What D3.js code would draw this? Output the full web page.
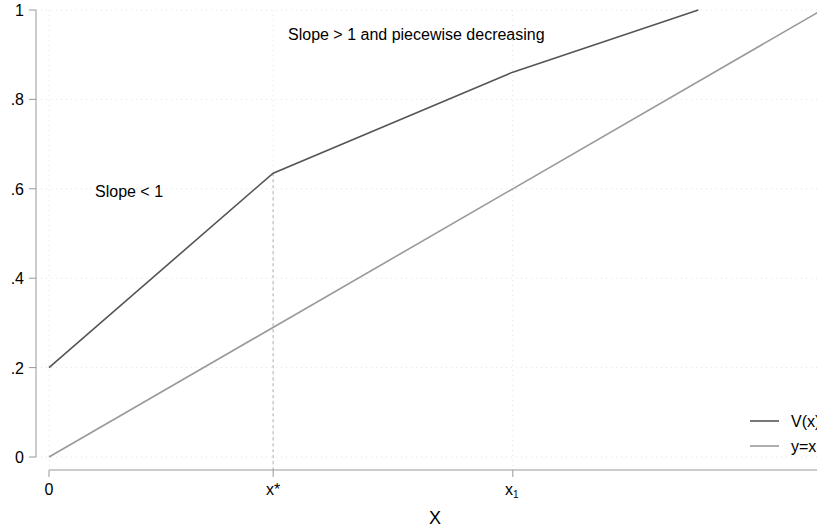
<!DOCTYPE html>
<meta charset="utf-8">
<html>
<head>
    <script src="https://cdn.jsdelivr.net/npm/d3@7"></script>
    <style>
        body { margin: 0; background: #fff; }
        text { font-family: "Liberation Sans", Arial, sans-serif; fill: #000; }
    </style>
</head>
<body>
    <script>
    // kinked value function V(x) and the 45 degree line
    var vX = [0, 0.29, 0.6, 0.84];
    var vY = [0.2, 0.635, 0.861, 1.0];
    var diagX = [0, 1];
    var diagY = [0, 1];
    var yTicks = [0, 0.2, 0.4, 0.6, 0.8, 1];
    var yTickLabels = ["0", ".2", ".4", ".6", ".8", "1"];
    var xTicks = [0, 0.29, 0.6];
    var xStar = 0.29;

    var svg = d3.select("body")
       .append("svg")
       .attr("width", 817)
       .attr("height", 529);

    var xScale = d3.scaleLinear()
       .domain([0, 1])
       .range([49, 822]);

    var yScale = d3.scaleLinear()
       .domain([0, 1])
       .range([457, 10]);

    // grid
    svg.selectAll(".hgrid")
       .data(yTicks)
       .enter()
       .append("line")
       .attr("x1", 36).attr("x2", 817)
       .attr("y1", function(d) { return yScale(d); })
       .attr("y2", function(d) { return yScale(d); })
       .attr("stroke", "#e2e2e2")
       .attr("stroke-dasharray", "1,4");

    svg.selectAll(".vgrid")
       .data(xTicks)
       .enter()
       .append("line")
       .attr("x1", function(d) { return xScale(d); })
       .attr("x2", function(d) { return xScale(d); })
       .attr("y1", 10).attr("y2", 470)
       .attr("stroke", "#e2e2e2")
       .attr("stroke-dasharray", "1,4");

    // drop line at x*
    svg.append("line")
       .attr("x1", xScale(xStar)).attr("x2", xScale(xStar))
       .attr("y1", yScale(vY[1])).attr("y2", 470)
       .attr("stroke", "#c8c8c8")
       .attr("stroke-width", 1.5)
       .attr("stroke-dasharray", "3,3");

    // axes
    svg.append("line")
       .attr("x1", 36).attr("x2", 36)
       .attr("y1", yScale(1)).attr("y2", yScale(0))
       .attr("stroke", "#999");
    svg.selectAll(".ytick")
       .data(yTicks)
       .enter()
       .append("line")
       .attr("x1", 29).attr("x2", 36)
       .attr("y1", function(d) { return yScale(d); })
       .attr("y2", function(d) { return yScale(d); })
       .attr("stroke", "#999");
    svg.selectAll(".ylab")
       .data(yTicks)
       .enter()
       .append("text")
       .attr("x", 24)
       .attr("y", function(d) { return yScale(d) + 6; })
       .attr("text-anchor", "end")
       .attr("font-size", 16)
       .text(function(d, i) { return yTickLabels[i]; });

    svg.append("line")
       .attr("x1", xScale(0)).attr("x2", 817)
       .attr("y1", 470).attr("y2", 470)
       .attr("stroke", "#999");
    svg.selectAll(".xtick")
       .data(xTicks)
       .enter()
       .append("line")
       .attr("x1", function(d) { return xScale(d); })
       .attr("x2", function(d) { return xScale(d); })
       .attr("y1", 470).attr("y2", 477)
       .attr("stroke", "#999");

    svg.append("text").attr("x", xScale(0)).attr("y", 495)
       .attr("text-anchor", "middle").attr("font-size", 16).text("0");
    svg.append("text").attr("x", xScale(xTicks[1])).attr("y", 495)
       .attr("text-anchor", "middle").attr("font-size", 16).text("x*");
    var x1lab = svg.append("text").attr("x", xScale(xTicks[2]) - 1).attr("y", 495)
       .attr("text-anchor", "middle").attr("font-size", 16);
    x1lab.append("tspan").text("x");
    x1lab.append("tspan").attr("font-size", 10).attr("dy", 3).text("1");

    svg.append("text").attr("x", 435).attr("y", 524)
       .attr("text-anchor", "middle").attr("font-size", 18).text("X");

    // lines
    var line = d3.line()
       .x(function(d) { return xScale(d[0]); })
       .y(function(d) { return yScale(d[1]); });

    svg.append("path")
       .datum(d3.zip(diagX, diagY))
       .attr("d", line)
       .attr("fill", "none")
       .attr("stroke", "#9a9a9a")
       .attr("stroke-width", 1.6);

    svg.append("path")
       .datum(d3.zip(vX, vY))
       .attr("d", line)
       .attr("fill", "none")
       .attr("stroke", "#555")
       .attr("stroke-width", 1.6);

    // annotations
    svg.append("text").attr("x", 288).attr("y", 40)
       .attr("font-size", 16).text("Slope > 1 and piecewise decreasing");
    svg.append("text").attr("x", 95).attr("y", 197)
       .attr("font-size", 16).text("Slope < 1");

    // legend
    var legend = [["V(x)", "#555", 421], ["y=x", "#9a9a9a", 446]];
    legend.forEach(function(l) {
        svg.append("line")
           .attr("x1", 750).attr("x2", 779)
           .attr("y1", l[2]).attr("y2", l[2])
           .attr("stroke", l[1]).attr("stroke-width", 1.6);
        svg.append("text").attr("x", 791).attr("y", l[2] + 6)
           .attr("font-size", 16).text(l[0]);
    });
    </script>
</body>
</html>
